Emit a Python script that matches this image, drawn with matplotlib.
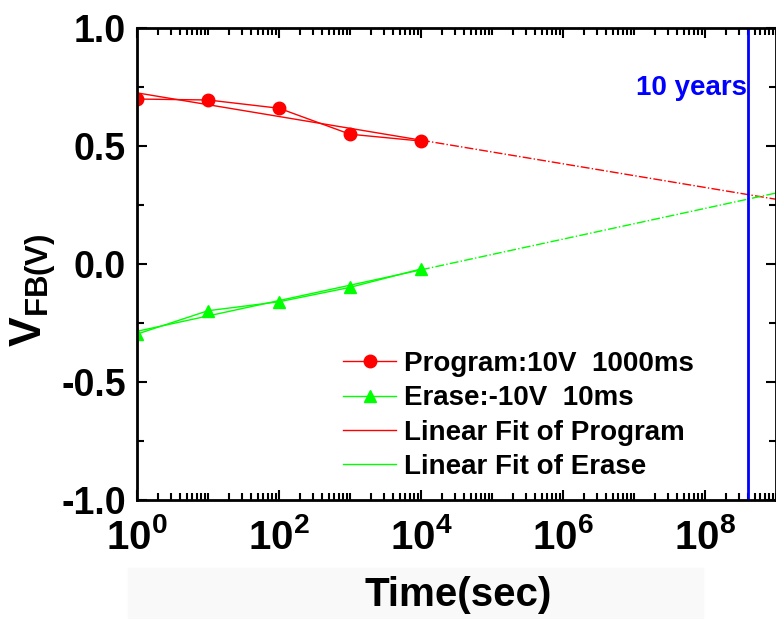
import numpy as np
import matplotlib
matplotlib.use("Agg")
import matplotlib.pyplot as plt
from matplotlib.patches import Rectangle
from matplotlib.ticker import LogLocator, FixedLocator, MultipleLocator, NullFormatter

plt.rcParams['font.family'] = ['Liberation Sans', 'DejaVu Sans']
plt.rcParams['font.weight'] = 'bold'
plt.rcParams['mathtext.fontset'] = 'custom'
plt.rcParams['mathtext.rm'] = 'Liberation Sans:bold'
plt.rcParams['mathtext.bf'] = 'Liberation Sans:bold'
plt.rcParams['mathtext.it'] = 'Liberation Sans:bold'

# data
t = np.array([1, 10, 100, 1000, 10000])
v_prog = np.array([0.699, 0.695, 0.66, 0.55, 0.521])
v_erase = np.array([-0.297, -0.198, -0.16, -0.099, -0.021])
t_10y = 4e8
xmax = 1e9

labels = ['Program:10V  1000ms', 'Erase:-10V  10ms',
          'Linear Fit of Program', 'Linear Fit of Erase']

# linear fits of V vs log10(t)
p_fit = np.polyfit(np.log10(t), v_prog, 1)
e_fit = np.polyfit(np.log10(t), v_erase, 1)

fig = plt.figure(figsize=(7.76, 6.19), dpi=100)
fig.patches.append(Rectangle((128/776, 0), (703-128)/776, 51/619,
                             transform=fig.transFigure, color='#f9f9f9', zorder=0))
ax = fig.add_axes([137/776, 119/619, 639/776, 472/619])
ax.patch.set_alpha(0)

ax.plot(t, v_prog, color='red', lw=1, marker='o', ms=9, label=labels[0])
ax.plot(t, v_erase, color='#00ff00', lw=1, marker='^', ms=9, label=labels[1])

xin = np.array([t[0], t[-1]])
xout = np.array([t[-1], xmax])
ax.plot(xin, np.polyval(p_fit, np.log10(xin)), color='red', lw=1, label=labels[2])
ax.plot(xout, np.polyval(p_fit, np.log10(xout)), color='red', lw=1, ls='-.')
ax.plot(xin, np.polyval(e_fit, np.log10(xin)), color='#00ff00', lw=1, label=labels[3])
ax.plot(xout, np.polyval(e_fit, np.log10(xout)), color='#00ff00', lw=1, ls='-.')

ax.axvline(t_10y, color='blue', lw=2)
ax.text(t_10y / 1.03, 0.746, '10 years', color='blue', fontsize=20,
        fontweight='bold', ha='right', va='center')

ax.set_xscale('log')
ax.set_xlim(1, xmax)
ax.set_ylim(-1.0, 1.0)

ax.xaxis.set_major_locator(FixedLocator([1e0, 1e2, 1e4, 1e6, 1e8]))
ax.xaxis.set_minor_locator(LogLocator(base=10, subs=np.arange(1, 10), numticks=20))
ax.xaxis.set_minor_formatter(NullFormatter())
ax.set_xticklabels([r'$10^{0}$', r'$10^{2}$', r'$10^{4}$', r'$10^{6}$', r'$10^{8}$'])
ax.yaxis.set_major_locator(MultipleLocator(0.5))
ax.yaxis.set_minor_locator(MultipleLocator(0.25))
ax.set_yticks([-1.0, -0.5, 0.0, 0.5, 1.0])
ax.set_yticklabels(['-1.0', '-0.5', '0.0', '0.5', '1.0'])

ax.tick_params(which='both', direction='in', top=True, right=True, width=1.5)
ax.tick_params(which='major', length=7)
ax.tick_params(which='minor', length=5)
ax.tick_params(axis='y', labelsize=27, pad=8)
ax.tick_params(axis='x', labelsize=29, pad=13)
for s in ax.spines.values():
    s.set_linewidth(2)

fig.text(458/776, (619-595)/619, 'Time(sec)', fontsize=29, fontweight='bold',
         ha='center', va='center')
fig.text(33/776, (619-290)/619, r'$\mathbf{V_{FB(V)}}$', fontsize=32, rotation=90,
         ha='center', va='center')

leg = ax.legend(loc='upper left', bbox_to_anchor=(195/639, 1 - 312/472), frameon=False,
                fontsize=20, handlelength=1.9, handletextpad=0.3, labelspacing=0.3,
                borderaxespad=0)
for txt in leg.get_texts():
    txt.set_fontweight('bold')

fig.savefig('out.png', dpi=100)
